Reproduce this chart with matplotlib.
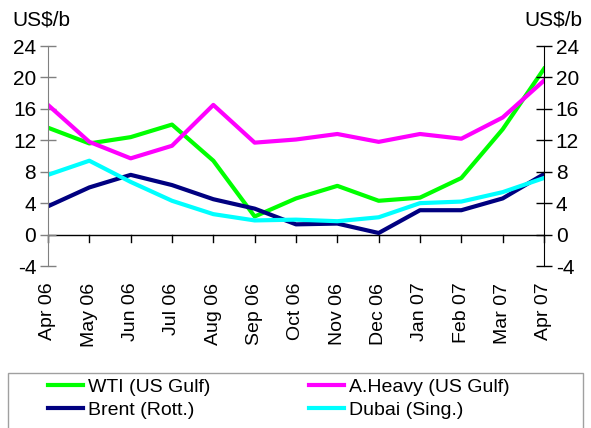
import matplotlib.pyplot as plt
from matplotlib.patches import Rectangle

# months and crack spreads (US$/b)
months = ['Apr 06', 'May 06', 'Jun 06', 'Jul 06', 'Aug 06', 'Sep 06', 'Oct 06',
          'Nov 06', 'Dec 06', 'Jan 07', 'Feb 07', 'Mar 07', 'Apr 07']
wti = [13.6, 11.6, 12.4, 14.0, 9.4, 2.3, 4.6, 6.2, 4.3, 4.7, 7.2, 13.4, 21.1]
aheavy = [16.5, 11.8, 9.7, 11.3, 16.5, 11.7, 12.1, 12.8, 11.8, 12.8, 12.2, 14.9, 19.6]
brent = [3.6, 6.0, 7.6, 6.3, 4.5, 3.3, 1.3, 1.4, 0.2, 3.1, 3.1, 4.6, 7.7]
dubai = [7.6, 9.4, 6.7, 4.3, 2.6, 1.8, 1.9, 1.7, 2.2, 4.0, 4.2, 5.4, 7.2]
yticks = [-4, 0, 4, 8, 12, 16, 20, 24]

fnt = 'Liberation Sans'

fig = plt.figure(figsize=(5.91, 4.28), dpi=100)
ax = fig.add_axes([48/591, 1-266/428, 496/591, 220/428])

x = list(range(len(months)))
l1, = ax.plot(x, wti, color='#00ff00', lw=3, label='WTI (US Gulf)')
l2, = ax.plot(x, aheavy, color='#ff00ff', lw=3, label='A.Heavy (US Gulf)')
l3, = ax.plot(x, brent, color='#000080', lw=3, label='Brent (Rott.)')
l4, = ax.plot(x, dubai, color='#00ffff', lw=3, label='Dubai (Sing.)')

ax.set_xlim(0, len(months) - 1)
ax.set_ylim(-4, 24)
ax.set_yticks(yticks)
ax.set_yticklabels([str(v) for v in yticks], family=fnt, fontsize=15)
ax.tick_params(axis='y', direction='inout', length=11, width=1, color='#808080', pad=3)

for s in ['top', 'bottom', 'right']:
    ax.spines[s].set_visible(False)
ax.spines['left'].set_color('#808080')
ax.axhline(0, color='black', lw=1, zorder=0)

# month ticks hang from the zero line
for xi in x:
    ax.plot([xi, xi], [0, -0.9], color='black', lw=1, clip_on=False, zorder=0)
ax.set_xticks(x)
ax.set_xticklabels(months, rotation=90, fontsize=14, family=fnt)
ax.tick_params(axis='x', length=0, pad=12)

ax2 = ax.twinx()
ax2.set_ylim(-4, 24)
ax2.set_yticks(yticks)
ax2.set_yticklabels([str(v) for v in yticks], family=fnt, fontsize=15)
ax2.tick_params(axis='y', direction='inout', length=11, width=1, color='black', pad=3)
for s in ['top', 'bottom', 'left']:
    ax2.spines[s].set_visible(False)

fig.text(12/591, 1-20/428, 'US$/b', family=fnt, fontsize=15, va='center')
fig.text(582/591, 1-20/428, 'US$/b', family=fnt, fontsize=15, va='center', ha='right')

# legend box, cut off by the bottom edge like the original
fig.patches.append(Rectangle((8/591, -0.05), 575/591, 0.05 + 1 - 373/428,
                             transform=fig.transFigure, fill=False,
                             edgecolor='#a0a0a0', lw=1))
handles = [l1, l3, l2, l4]
fig.legend(handles, [h.get_label() for h in handles], ncol=2,
           loc='upper left', bbox_to_anchor=(48/591, 1-378/428),
           prop={'family': fnt, 'size': 14}, frameon=False,
           handlelength=1.8, handletextpad=0.25, labelspacing=0.3,
           columnspacing=5.1, borderaxespad=0, borderpad=0)

fig.savefig('out.png', dpi=100)
